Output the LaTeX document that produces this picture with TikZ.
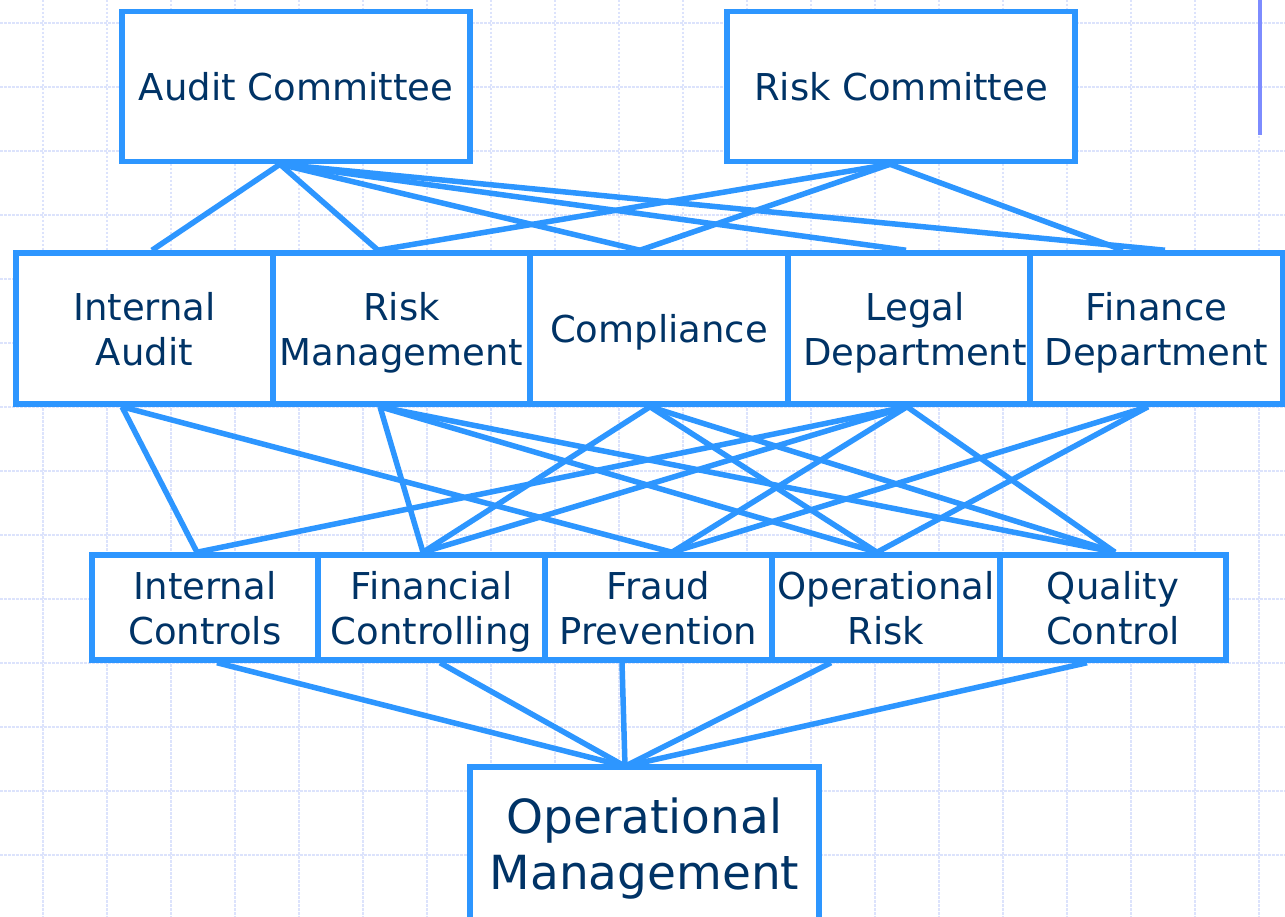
\documentclass[tikz,border=0pt]{standalone}
\usepackage{fontspec}
\setmainfont{DejaVu Sans}
\definecolor{boxblue}{RGB}{45,150,255}
\definecolor{txtnavy}{RGB}{0,51,102}
\definecolor{gridc}{RGB}{220,227,252}
\definecolor{barc}{RGB}{125,140,255}
\begin{document}
\begin{tikzpicture}[x=1pt,y=-1pt,
  orgbox/.style={draw=boxblue,line width=5.5pt,fill=white,text=txtnavy,align=center,inner sep=0pt,text depth=0pt,font=\fontsize{37}{45}\selectfont},
  bigbox/.style={orgbox,font=\fontsize{47}{56}\selectfont},
  link/.style={draw=boxblue,line width=5.5pt},
  gridline/.style={draw=gridc,line width=1.6pt,dash pattern=on 2.5pt off 1.5pt}]
\useasboundingbox (0,0) rectangle (1285,917);
\fill[white] (0,0) rectangle (1285,917);
\foreach \y in {23,87,...,855} \draw[gridline] (0,\y) -- (1285,\y);
\foreach \x in {43,107,...,1259} \draw[gridline] (\x,0) -- (\x,917);
\draw[barc,line width=3.5pt] (1260,0) -- (1260,135);

% top row
\node[orgbox,minimum width=348pt,minimum height=150pt] (ac) at (296,86.5) {Audit Committee};
\node[orgbox,minimum width=348pt,minimum height=150pt] (rc) at (901,86.5) {Risk Committee};
% middle row
\node[orgbox,minimum width=257pt,minimum height=151pt] (ia) at (144.5,328.5) {Internal\\Audit};
\node[orgbox,minimum width=257pt,minimum height=151pt] (rm) at (401.5,328.5) {Risk\\Management};
\node[orgbox,minimum width=258pt,minimum height=151pt] (co) at (659,328.5) {Compliance};
\node[orgbox,minimum width=242pt,minimum height=151pt] (ld) at (909,328.5) {\hspace*{12pt}Legal\\\hspace*{12pt}Department};
\node[orgbox,minimum width=253pt,minimum height=151pt] (fd) at (1156.5,328.5) {Finance\\Department};
% lower row
\node[orgbox,minimum width=226pt,minimum height=105pt] (ic) at (205,607.5) {Internal\\Controls};
\node[orgbox,minimum width=227pt,minimum height=105pt] (fc) at (431.5,607.5) {Financial\\Controlling};
\node[orgbox,minimum width=227pt,minimum height=105pt] (fp) at (658.5,607.5) {Fraud\\Prevention};
\node[orgbox,minimum width=228pt,minimum height=105pt] (opr) at (886,607.5) {Operational\\Risk};
\node[orgbox,minimum width=226pt,minimum height=105pt] (qc) at (1113,607.5) {Quality\\Control};
% bottom
\node[bigbox,minimum width=349pt,minimum height=154pt] (om) at (644.5,844) {Operational\\Management};

% committees to departments
\draw[link] ([xshift=-16pt]ac.south) -- ([xshift=7.5pt]ia.north);
\draw[link] ([xshift=-16pt]ac.south) -- ([xshift=-23.5pt]rm.north);
\draw[link] ([xshift=-16pt]ac.south) -- ([xshift=-19pt]co.north);
\draw[link] ([xshift=-16pt]ac.south) -- ([xshift=-3pt]ld.north);
\draw[link] ([xshift=-16pt]ac.south) -- ([xshift=8.5pt]fd.north);
\draw[link] ([xshift=-11pt]rc.south) -- ([xshift=-23.5pt]rm.north);
\draw[link] ([xshift=-11pt]rc.south) -- ([xshift=-19pt]co.north);
\draw[link] ([xshift=-11pt]rc.south) -- ([xshift=-33.5pt]fd.north);

% departments to functions
\draw[link] ([xshift=-22.5pt]ia.south) -- ([xshift=-8pt]ic.north);
\draw[link] ([xshift=-22.5pt]ia.south) -- ([xshift=13.5pt]fp.north);
\draw[link] ([xshift=-21.5pt]rm.south) -- ([xshift=-8.5pt]fc.north);
\draw[link] ([xshift=-21.5pt]rm.south) -- ([xshift=-9pt]opr.north);
\draw[link] ([xshift=-21.5pt]rm.south) -- ([xshift=2pt]qc.north);
\draw[link] ([xshift=-9pt]co.south) -- ([xshift=-8.5pt]fc.north);
\draw[link] ([xshift=-9pt]co.south) -- ([xshift=-9pt]opr.north);
\draw[link] ([xshift=-9pt]co.south) -- ([xshift=2pt]qc.north);
\draw[link] ([xshift=-2pt]ld.south) -- ([xshift=-8pt]ic.north);
\draw[link] ([xshift=-2pt]ld.south) -- ([xshift=-8.5pt]fc.north);
\draw[link] ([xshift=-2pt]ld.south) -- ([xshift=13.5pt]fp.north);
\draw[link] ([xshift=-2pt]ld.south) -- ([xshift=2pt]qc.north);
\draw[link] ([xshift=-8.5pt]fd.south) -- ([xshift=13.5pt]fp.north);
\draw[link] ([xshift=-8.5pt]fd.south) -- ([xshift=-9pt]opr.north);

% functions to operational management
\draw[link] ([xshift=12pt]ic.south) -- ([xshift=-19.5pt,yshift=-2pt]om.north);
\draw[link] ([xshift=8.5pt]fc.south) -- ([xshift=-19.5pt,yshift=-2pt]om.north);
\draw[link] ([xshift=-36.5pt]fp.south) -- ([xshift=-19.5pt,yshift=-2pt]om.north);
\draw[link] ([xshift=-55pt]opr.south) -- ([xshift=-19.5pt,yshift=-2pt]om.north);
\draw[link] ([xshift=-26pt]qc.south) -- ([xshift=-19.5pt,yshift=-2pt]om.north);
\end{tikzpicture}
\end{document}
